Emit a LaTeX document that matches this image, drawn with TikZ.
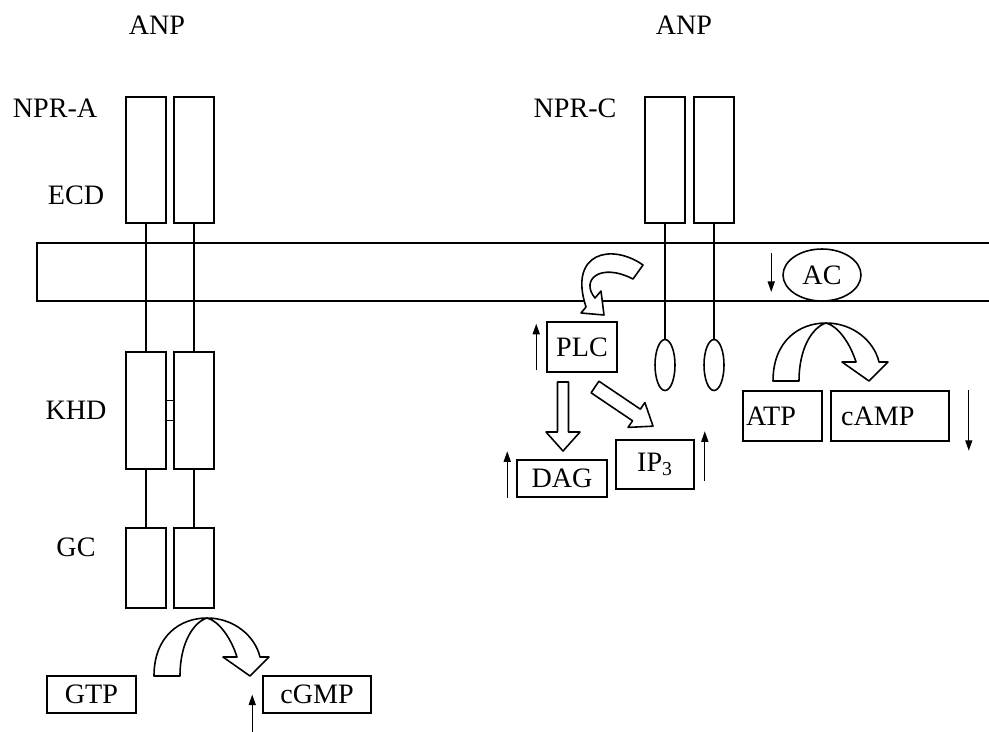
\documentclass[tikz,border=0pt]{standalone}
\usepackage{fontspec}
\setmainfont{Liberation Serif}
\usetikzlibrary{arrows.meta, shapes.geometric}

\begin{document}
\begin{tikzpicture}[x=0.02cm, y=-0.02cm, line width=0.9pt,
    every node/.style={font=\fontsize{16}{18}\selectfont},
    unitbox/.style={draw, inner sep=0pt, minimum width=0.8cm},
    tbox/.style={draw, inner sep=0pt},
    level/.style={-{Triangle[length=6pt,width=4pt]}, line width=0.8pt},
    hollow/.style={draw, fill=white, line join=round}]
  \useasboundingbox (0,0) rectangle (989,731);
  % labels
  \node (anpA) at (157,25) {ANP};
  \node (anpC) at (684,25) {ANP};
  \node (npra) at (55,108) {NPR-A};
  \node (nprc) at (575,108) {NPR-C};
  \node (ecd) at (76,195) {ECD};
  \node (khd) at (76,410) {KHD};
  \node (gc) at (76,547) {GC};
  % membrane
  \draw (989,243) -- (37,243) -- (37,301) -- (989,301);
  % NPR-A
  \node[unitbox, minimum height=2.52cm] (ecdA1) at (146,160) {};
  \node[unitbox, minimum height=2.52cm] (ecdA2) at (194,160) {};
  \node[unitbox, minimum height=2.34cm] (khdA1) at (146,410.5) {};
  \node[unitbox, minimum height=2.34cm] (khdA2) at (194,410.5) {};
  \node[unitbox, minimum height=1.6cm] (gcA1) at (146,568) {};
  \node[unitbox, minimum height=1.6cm] (gcA2) at (194,568) {};
  \draw (ecdA1) -- (khdA1);
  \draw (ecdA2) -- (khdA2);
  \draw (khdA1) -- (gcA1);
  \draw (khdA2) -- (gcA2);
  \draw ([yshift=0.2cm]khdA1.east) -- ([yshift=0.2cm]khdA2.west);
  \draw ([yshift=-0.2cm]khdA1.east) -- ([yshift=-0.2cm]khdA2.west);
  % NPR-C
  \node[unitbox, minimum height=2.52cm] (ecdC1) at (665,160) {};
  \node[unitbox, minimum height=2.52cm] (ecdC2) at (714,160) {};
  \node[draw, ellipse, inner sep=0pt, minimum width=0.4cm, minimum height=1.02cm] (tailC1) at (665,365) {};
  \node[draw, ellipse, inner sep=0pt, minimum width=0.4cm, minimum height=1.02cm] (tailC2) at (714,365) {};
  \draw (ecdC1) -- (tailC1);
  \draw (ecdC2) -- (tailC2);
  \node[draw, ellipse, inner sep=0pt, minimum width=1.56cm, minimum height=1.04cm] (ac) at (822,275) {AC};
  % products
  \node[tbox, minimum width=1.78cm, minimum height=0.74cm] (gtp) at (91.5,694.5) {GTP};
  \node[tbox, minimum width=2.16cm, minimum height=0.74cm] (cgmp) at (317,694.5) {cGMP};
  \node[tbox, minimum height=1.0cm, inner xsep=0.06cm, text width=1.46cm, align=left] (atp) at (782.5,416) {ATP};
  \node[tbox, minimum height=1.0cm, inner xsep=0.2cm, text width=1.96cm, align=left] (camp) at (890,416) {cAMP};
  \node[tbox, minimum width=1.4cm, minimum height=1.0cm] (plc) at (582,347) {PLC};
  \node[tbox, minimum width=1.8cm, minimum height=0.74cm] (dag) at (562,478.5) {DAG};
  \node[tbox, minimum width=1.56cm, minimum height=0.98cm] (ip) at (655,464.5) {IP\textsubscript{3}};
  % up and down
  \draw[level] ([xshift=-0.2cm, yshift=-0.74cm]cgmp.south west) -- ([xshift=-0.2cm]cgmp.west);
  \draw[level] ([xshift=-0.2cm, yshift=0.05cm]plc.south west) -- ([xshift=-0.2cm, yshift=-0.05cm]plc.north west);
  \draw[level] ([xshift=-0.18cm]dag.south west) -- ([xshift=-0.18cm, yshift=0.16cm]dag.north west);
  \draw[level] ([xshift=0.2cm, yshift=0.18cm]ip.south east) -- ([xshift=0.2cm, yshift=0.16cm]ip.north east);
  \draw[level] ([xshift=-0.22cm, yshift=0.44cm]ac.west) -- ([xshift=-0.22cm, yshift=-0.34cm]ac.west);
  \draw[level] ([xshift=0.38cm]camp.north east) -- ([xshift=0.38cm, yshift=-0.18cm]camp.south east);
  % hollow arrows
  \draw[hollow] (154,676) .. controls (154,636) and (180,618) .. (207,618)
    .. controls (234,618) and (255,636) .. (260,657) -- (269,657) -- (250,676) -- (223,657) -- (237,657)
    .. controls (231,638) and (219,621) .. (207,618) .. controls (194,622) and (180,642) .. (180,676) -- cycle;
  \begin{scope}[shift={(619,-295)}]
    \draw[hollow] (154,676) .. controls (154,636) and (180,618) .. (207,618)
      .. controls (234,618) and (255,636) .. (260,657) -- (269,657) -- (250,676) -- (223,657) -- (237,657)
      .. controls (231,638) and (219,621) .. (207,618) .. controls (194,622) and (180,642) .. (180,676) -- cycle;
  \end{scope}
  \draw[hollow] (633,279) -- (643,265) .. controls (612,243) and (568,252) .. (586,307)
    -- (581,313) -- (604,315) -- (601,291) -- (595,298) .. controls (580,280) and (600,262) .. (633,279) -- cycle;
  \draw[hollow] (557.5,382) -- (568.5,382) -- (568.5,432) -- (580,432) -- (563,451) -- (546,432) -- (557.5,432) -- cycle;
  \begin{scope}[shift={(595,387)}, rotate=-34]
    \draw[hollow] (0,-7) -- (50,-7) -- (50,-15) -- (70,0) -- (50,15) -- (50,7) -- (0,7) -- cycle;
  \end{scope}
\end{tikzpicture}
\end{document}
